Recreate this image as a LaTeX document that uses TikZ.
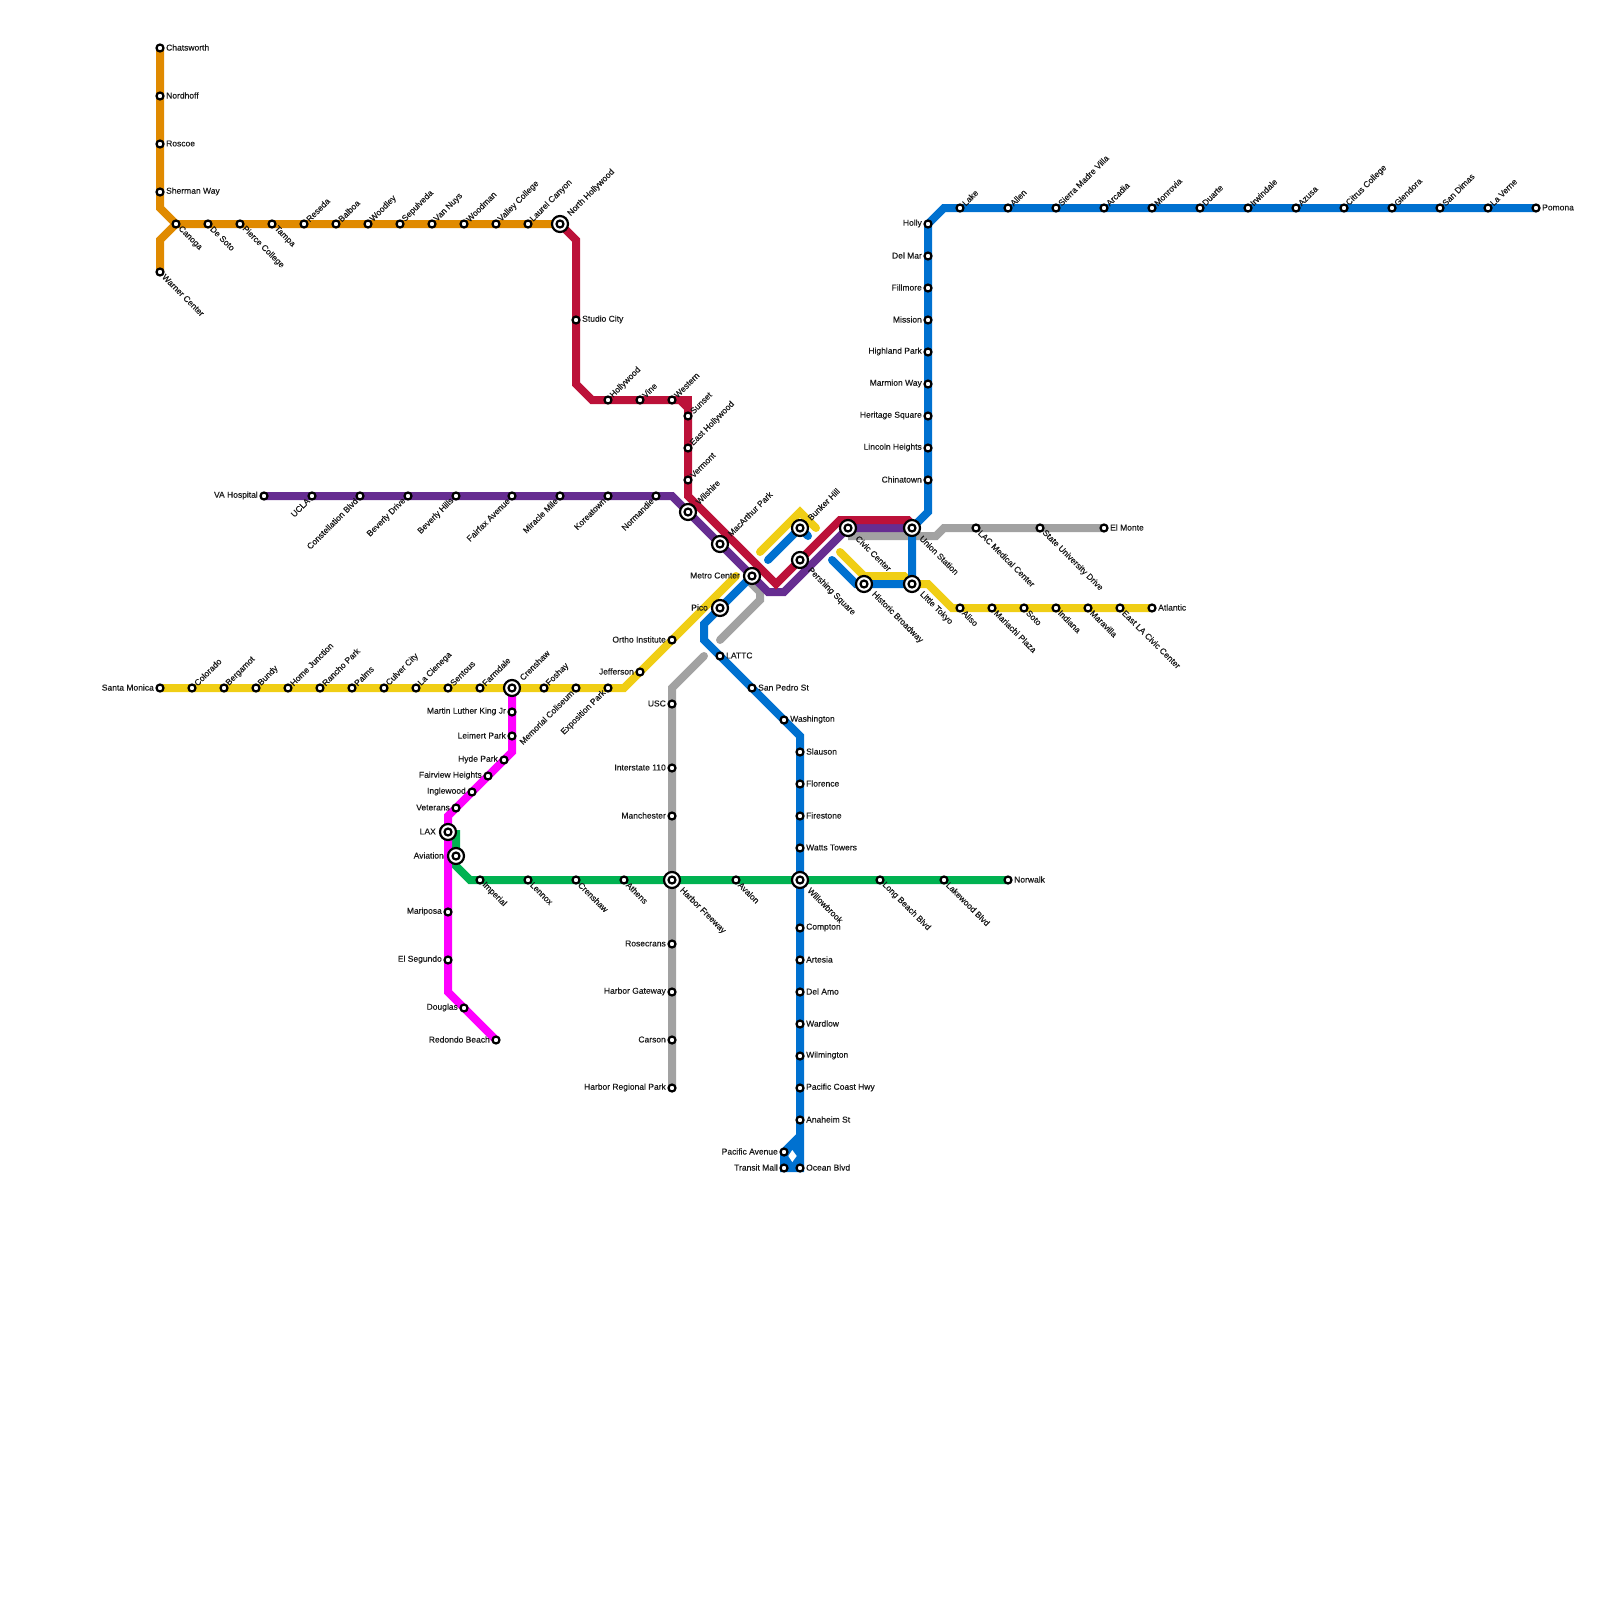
\documentclass[tikz,border=0pt]{standalone}
\usepackage{fontspec}
\newfontfamily\labfont[FakeBold=0.35]{Liberation Sans}
\definecolor{cOrange}{HTML}{E08A00}
\definecolor{cRed}{HTML}{BC1139}
\definecolor{cPurple}{HTML}{662D91}
\definecolor{cBlue}{HTML}{0071D0}
\definecolor{cYellow}{HTML}{F0CE15}
\definecolor{cGray}{HTML}{A2A2A2}
\definecolor{cGreen}{HTML}{00B251}
\definecolor{cMagenta}{HTML}{FF00FF}
\pgfdeclarelayer{lines}
\pgfsetlayers{lines,main}
\tikzset{
  stnode/.style={circle,draw=black,fill=white,line width=2.2pt,minimum size=7pt,inner sep=0pt},
  xring/.style={circle,draw=black,fill=white,line width=2.2pt,minimum size=16pt,inner sep=0pt},
  lab/.style={inner sep=0pt,font=\labfont\fontsize{8.5}{9}\selectfont,text=black!90},
  lE/.style={lab,anchor=west,xshift=6pt,yshift=0.5pt},
  lW/.style={lab,anchor=east,xshift=-6pt,yshift=0.5pt},
  lUR/.style={lab,anchor=west,xshift=3.5pt,yshift=3.5pt,rotate=45},
  lDR/.style={lab,anchor=west,xshift=3.5pt,yshift=-3.5pt,rotate=-45},
  lDL/.style={lab,anchor=east,xshift=-3.5pt,yshift=-3.5pt,rotate=45},
  iE/.style={lab,anchor=west,xshift=12pt,yshift=0.5pt},
  iW/.style={lab,anchor=east,xshift=-12pt,yshift=0.5pt},
  iUR/.style={lab,anchor=west,xshift=9pt,yshift=9pt,rotate=45},
  iDR/.style={lab,anchor=west,xshift=9pt,yshift=-9pt,rotate=-45},
  ln/.style={line width=8pt,miter limit=10,line join=miter},
  rnd/.style={line cap=round},
}
\newcommand\stn[5]{\node[stnode] (#1) at (#2,#3) {}; \node[#4] (#1-l) at (#1.center) {#5};}
\newcommand\xch[5]{\node[xring] (#1) at (#2,#3) {}; \node[stnode] (#1-i) at (#1.center) {}; \node[#4] (#1-l) at (#1.center) {#5};}
\begin{document}
\begin{tikzpicture}[x=1pt,y=-1pt]
\useasboundingbox (0,0) rectangle (1600,1600);
% orange
\stn{chat}{160}{48}{lE}{Chatsworth}
\stn{nord}{160}{96}{lE}{Nordhoff}
\stn{rosc}{160}{144}{lE}{Roscoe}
\stn{sher}{160}{192}{lE}{Sherman Way}
\stn{warn}{160}{272}{lDR}{Warner Center}
\stn{cano}{176}{224}{lDR}{Canoga}
\stn{deso}{208}{224}{lDR}{De Soto}
\stn{pier}{240}{224}{lDR}{Pierce College}
\stn{tamp}{272}{224}{lDR}{Tampa}
\stn{rese}{304}{224}{lUR}{Reseda}
\stn{balb}{336}{224}{lUR}{Balboa}
\stn{wood}{368}{224}{lUR}{Woodley}
\stn{sepu}{400}{224}{lUR}{Sepulveda}
\stn{vann}{432}{224}{lUR}{Van Nuys}
\stn{wdmn}{464}{224}{lUR}{Woodman}
\stn{vall}{496}{224}{lUR}{Valley College}
\stn{laur}{528}{224}{lUR}{Laurel Canyon}
\xch{noho}{560}{224}{iUR}{North Hollywood}
% red
\stn{stud}{576}{320}{lE}{Studio City}
\stn{holl}{608}{400}{lUR}{Hollywood}
\stn{vine}{640}{400}{lUR}{Vine}
\stn{west}{672}{400}{lUR}{Western}
\stn{suns}{688}{416}{lUR}{Sunset}
\stn{eaho}{688}{448}{lUR}{East Hollywood}
\stn{verm}{688}{480}{lUR}{Vermont}
\xch{wils}{688}{512}{iUR}{Wilshire}
\xch{maca}{720}{544}{iUR}{MacArthur Park}
\xch{metr}{752}{576}{iW}{Metro Center}
\xch{pers}{800}{560}{iDR}{Pershing Square}
\xch{bunk}{800}{528}{iUR}{Bunker Hill}
\xch{civi}{848}{528}{iDR}{Civic Center}
\xch{unio}{912}{528}{iDR}{Union Station}
\xch{hist}{864}{584}{iDR}{Historic Broadway}
\xch{litt}{912}{584}{iDR}{Little Tokyo}
% purple
\stn{vaho}{264}{496}{lW}{VA Hospital}
\stn{ucla}{312}{496}{lDL}{UCLA}
\stn{cons}{360}{496}{lDL}{Constellation Blvd}
\stn{bevd}{408}{496}{lDL}{Beverly Drive}
\stn{bevh}{456}{496}{lDL}{Beverly Hills}
\stn{fair}{512}{496}{lDL}{Fairfax Avenue}
\stn{mira}{560}{496}{lDL}{Miracle Mile}
\stn{kore}{608}{496}{lDL}{Koreatown}
\stn{norm}{656}{496}{lDL}{Normandie}
% yellow
\stn{sant}{160}{688}{lW}{Santa Monica}
\stn{colo}{192}{688}{lUR}{Colorado}
\stn{berg}{224}{688}{lUR}{Bergamot}
\stn{bund}{256}{688}{lUR}{Bundy}
\stn{home}{288}{688}{lUR}{Home Junction}
\stn{ranc}{320}{688}{lUR}{Rancho Park}
\stn{palm}{352}{688}{lUR}{Palms}
\stn{culv}{384}{688}{lUR}{Culver City}
\stn{laci}{416}{688}{lUR}{La Cienega}
\stn{sent}{448}{688}{lUR}{Sentous}
\stn{farm}{480}{688}{lUR}{Farmdale}
\xch{cren}{512}{688}{iUR}{Crenshaw}
\stn{fosh}{544}{688}{lUR}{Foshay}
\stn{memo}{576}{688}{lDL}{Memorial Coliseum}
\stn{expo}{608}{688}{lDL}{Exposition Park}
\stn{jeff}{640}{672}{lW}{Jefferson}
\stn{orth}{672}{640}{lW}{Ortho Institute}
\xch{pico}{720}{608}{iW}{Pico}
\stn{alis}{960}{608}{lDR}{Aliso}
\stn{mari}{992}{608}{lDR}{Mariachi Plaza}
\stn{soto}{1024}{608}{lDR}{Soto}
\stn{indi}{1056}{608}{lDR}{Indiana}
\stn{mara}{1088}{608}{lDR}{Maravilla}
\stn{eala}{1120}{608}{lDR}{East LA Civic Center}
\stn{atla}{1152}{608}{lE}{Atlantic}
% gray
\stn{lacm}{976}{528}{lDR}{LAC Medical Center}
\stn{stat}{1040}{528}{lDR}{State University Drive}
\stn{elmo}{1104}{528}{lE}{El Monte}
\stn{usc}{672}{704}{lW}{USC}
\stn{i110}{672}{768}{lW}{Interstate 110}
\stn{manc}{672}{816}{lW}{Manchester}
\xch{harf}{672}{880}{iDR}{Harbor Freeway}
\stn{rose}{672}{944}{lW}{Rosecrans}
\stn{harg}{672}{992}{lW}{Harbor Gateway}
\stn{cars}{672}{1040}{lW}{Carson}
\stn{harr}{672}{1088}{lW}{Harbor Regional Park}
% blue
\stn{holy}{928}{224}{lW}{Holly}
\stn{delm}{928}{256}{lW}{Del Mar}
\stn{fill}{928}{288}{lW}{Fillmore}
\stn{miss}{928}{320}{lW}{Mission}
\stn{high}{928}{352}{lW}{Highland Park}
\stn{marm}{928}{384}{lW}{Marmion Way}
\stn{heri}{928}{416}{lW}{Heritage Square}
\stn{linc}{928}{448}{lW}{Lincoln Heights}
\stn{chin}{928}{480}{lW}{Chinatown}
\stn{lake}{960}{208}{lUR}{Lake}
\stn{alle}{1008}{208}{lUR}{Allen}
\stn{sier}{1056}{208}{lUR}{Sierra Madre Villa}
\stn{arca}{1104}{208}{lUR}{Arcadia}
\stn{monr}{1152}{208}{lUR}{Monrovia}
\stn{duar}{1200}{208}{lUR}{Duarte}
\stn{irwi}{1248}{208}{lUR}{Irwindale}
\stn{azus}{1296}{208}{lUR}{Azusa}
\stn{citr}{1344}{208}{lUR}{Citrus College}
\stn{glen}{1392}{208}{lUR}{Glendora}
\stn{sand}{1440}{208}{lUR}{San Dimas}
\stn{lave}{1488}{208}{lUR}{La Verne}
\stn{pomo}{1536}{208}{lE}{Pomona}
\stn{latt}{720}{656}{lE}{LATTC}
\stn{sanp}{752}{688}{lE}{San Pedro St}
\stn{wash}{784}{720}{lE}{Washington}
\stn{slau}{800}{752}{lE}{Slauson}
\stn{flor}{800}{784}{lE}{Florence}
\stn{fire}{800}{816}{lE}{Firestone}
\stn{watt}{800}{848}{lE}{Watts Towers}
\xch{will}{800}{880}{iDR}{Willowbrook}
\stn{comp}{800}{928}{lE}{Compton}
\stn{arte}{800}{960}{lE}{Artesia}
\stn{dela}{800}{992}{lE}{Del Amo}
\stn{ward}{800}{1024}{lE}{Wardlow}
\stn{wilm}{800}{1056}{lE}{Wilmington}
\stn{paco}{800}{1088}{lE}{Pacific Coast Hwy}
\stn{anah}{800}{1120}{lE}{Anaheim St}
\stn{ocea}{800}{1168}{lE}{Ocean Blvd}
\stn{paca}{784}{1152}{lW}{Pacific Avenue}
\stn{tran}{784}{1168}{lW}{Transit Mall}
% magenta
\stn{mlk}{512}{712}{lW}{Martin Luther King Jr}
\stn{leim}{512}{736}{lW}{Leimert Park}
\stn{hyde}{504}{760}{lW}{Hyde Park}
\stn{fvhe}{488}{776}{lW}{Fairview Heights}
\stn{ingl}{472}{792}{lW}{Inglewood}
\stn{vete}{456}{808}{lW}{Veterans}
\xch{lax}{448}{832}{iW}{LAX}
\xch{avia}{456}{856}{iW}{Aviation}
\stn{mrps}{448}{912}{lW}{Mariposa}
\stn{else}{448}{960}{lW}{El Segundo}
\stn{doug}{464}{1008}{lW}{Douglas}
\stn{redo}{496}{1040}{lW}{Redondo Beach}
% green
\stn{impe}{480}{880}{lDR}{Imperial}
\stn{lenn}{528}{880}{lDR}{Lennox}
\stn{crgr}{576}{880}{lDR}{Crenshaw}
\stn{athe}{624}{880}{lDR}{Athens}
\stn{aval}{736}{880}{lDR}{Avalon}
\stn{long}{880}{880}{lDR}{Long Beach Blvd}
\stn{lakw}{944}{880}{lDR}{Lakewood Blvd}
\stn{norw}{1008}{880}{lE}{Norwalk}
% free ends of the line fragments
\coordinate (yEndA) at (736,576);
\coordinate (yEndB) at (760,552);
\coordinate (yEndC) at (816,528);
\coordinate (yEndD) at (840,552);
\coordinate (bEndA) at (768,560);
\coordinate (bEndB) at (808,536);
\coordinate (bEndC) at (832,560);
\coordinate (gEndA) at (704,656);
\coordinate (gEndB) at (720,640);
\begin{pgfonlayer}{lines}
% gray
\draw[ln,cGray,rnd] (gEndA) -- (672,688) -- (harr.center);
\draw[ln,cGray,rnd] (gEndB) -- (760,600) -- (760,592) -- (748,580);
\draw[ln,cGray] (civi.center) ++(0,8) -- (936,536) -- (944,528) -- (elmo.center);
% yellow
\draw[ln,cYellow] (sant.center) -- (624,688) -- (jeff.center) -- (orth.center);
\draw[ln,cYellow,rnd] (orth.center) -- (yEndA);
\draw[ln,cYellow,rnd] (yEndB) -- (800,512) -- (yEndC);
\draw[ln,cYellow,rnd] (yEndD) -- (864,576) -- (904,576) -- (litt.center) -- (928,584) -- (952,608) -- (atla.center);
% blue
\draw[ln,cBlue,rnd] (bEndA) -- (bunk.center) -- (bEndB);
\draw[ln,cBlue,rnd] (bEndC) -- (856,584) -- (litt.center) -- (unio.center) -- (928,512) -- (holy.center) -- (944,208) -- (pomo.center);
\draw[ln,cBlue] (metr.center) -- (704,624) -- (704,640) -- (wash.center) -- (800,736) -- (ocea.center) -- (tran.center) -- (paca.center) -- (800,1136);
\fill[cBlue] (784,1152) -- (800,1136) -- (800,1168) -- (784,1168) -- cycle;
\fill[white] (792.3,1150) -- (796.7,1156) -- (792.3,1162) -- (788.3,1156) -- cycle;
% green
\draw[ln,cGreen] (456,830) -- (456,866) -- (470,880) -- (norw.center);
% magenta
\draw[ln,cMagenta] (cren.center) -- (512,752) -- (448,816) -- (448,992) -- (redo.center);
% purple
\draw[ln,cPurple] (vaho.center) -- (672,496) -- (768,592) -- (784,592) -- (civi.center) -- (unio.center);
% red
\draw[ln,cRed] (noho.center) -- (576,240) -- (576,384) -- (592,400) -- (680,400) -- (688,408) -- (688,496) -- (776,584) -- (840,520) -- (908,520) -- (916,528);
\draw[ln,cRed] (west.center) -- (688,400) -- (suns.center);
% orange
\draw[ln,cOrange] (chat.center) -- (160,208) -- (cano.center) -- (noho.center);
\draw[ln,cOrange] (warn.center) -- (160,240) -- (cano.center);
\end{pgfonlayer}
\end{tikzpicture}
\end{document}
